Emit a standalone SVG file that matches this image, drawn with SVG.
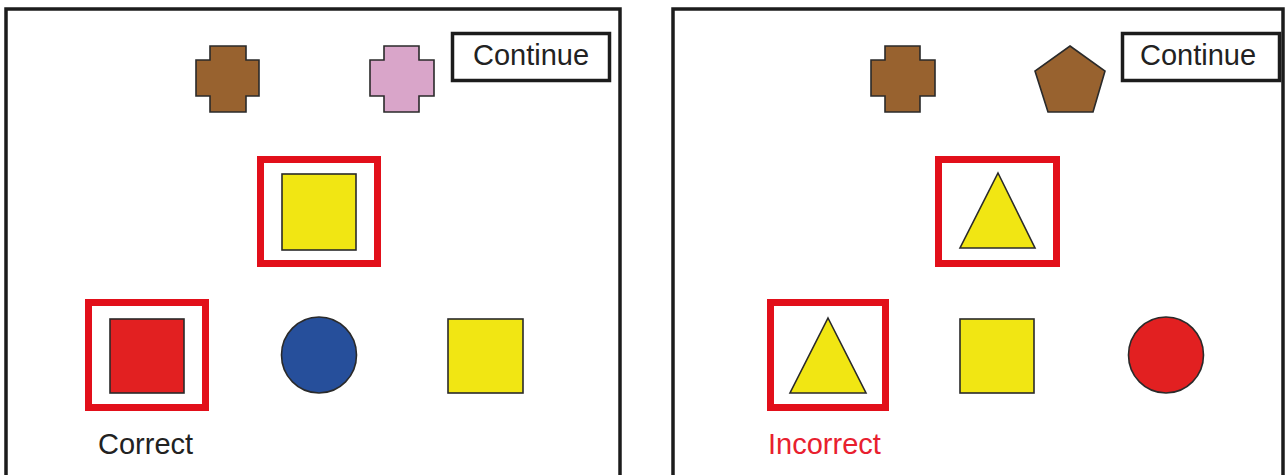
<svg xmlns="http://www.w3.org/2000/svg" width="1286" height="475" viewBox="0 0 1286 475">
<style>
.panel{fill:#fff;stroke:#1c1c1c;stroke-width:3.5}
.btn{fill:#fff;stroke:#1c1c1c;stroke-width:3.5}
.btntxt{font-family:"Liberation Sans",Arial,sans-serif;font-size:29px;fill:#222;text-anchor:middle}
.lbl{font-family:"Liberation Sans",Arial,sans-serif;font-size:29px}
.sel{fill:none;stroke:#e20f1a;stroke-width:7}
.shp{stroke:#2a2a2a;stroke-width:1.6}
.brown{fill:#98622f}
.pink{fill:#d9a5c9}
.yellow{fill:#f1e613}
.red{fill:#e22021}
.blue{fill:#264f9b}
</style>
<rect width="1286" height="475" fill="#fff"/>
<g id="panel-correct">
  <rect class="panel" x="6" y="9" width="614" height="480"/>
  <g id="continue-left">
    <rect class="btn" x="452.5" y="33.5" width="157" height="47"/>
    <text class="btntxt" x="531" y="65">Continue</text>
  </g>
  <path id="cross-brown-left" class="shp brown" d="M210,46 H246 V60 H259 V96 H246 V112 H210 V96 H196 V60 H210 Z"/>
  <path id="cross-pink" class="shp pink" d="M384,46 H419 V60 H434 V96 H419 V112 H384 V96 H370 V60 H384 Z"/>
  <g id="sample-left">
    <rect class="sel" x="260.5" y="159.5" width="117" height="104"/>
    <rect class="shp yellow" x="282" y="174" width="74" height="76"/>
  </g>
  <g id="choice-red-square">
    <rect class="sel" x="88.5" y="302.5" width="117" height="105"/>
    <rect class="shp red" x="110" y="319" width="74" height="74"/>
  </g>
  <ellipse id="choice-blue-circle" class="shp blue" cx="319" cy="355" rx="37.5" ry="38"/>
  <rect id="choice-yellow-square" class="shp yellow" x="448" y="319" width="75" height="74"/>
  <text id="label-correct" class="lbl" x="98" y="454" fill="#222">Correct</text>
</g>
<g id="panel-incorrect">
  <rect class="panel" x="673" y="9" width="610" height="480"/>
  <g id="continue-right">
    <rect class="btn" x="1122.5" y="33.5" width="157" height="47"/>
    <text class="btntxt" x="1198" y="65">Continue</text>
  </g>
  <path id="cross-brown-right" class="shp brown" d="M885,46 H920 V60 H935 V96 H920 V112 H885 V96 H871 V60 H885 Z"/>
  <polygon id="pentagon" class="shp brown" points="1070,46 1105,71 1093,112 1048,112 1035,71"/>
  <g id="sample-right">
    <rect class="sel" x="938.5" y="159.5" width="118" height="104"/>
    <polygon class="shp yellow" points="998,173 1035,248 960,248"/>
  </g>
  <g id="choice-triangle">
    <rect class="sel" x="770.5" y="302.5" width="115" height="105"/>
    <polygon class="shp yellow" points="828,318 866,393 790,393"/>
  </g>
  <rect id="choice-yellow-square-right" class="shp yellow" x="960" y="319" width="74" height="74"/>
  <ellipse id="choice-red-circle" class="shp red" cx="1166" cy="355" rx="37.5" ry="38"/>
  <text id="label-incorrect" class="lbl" x="768" y="454" fill="#e8202e">Incorrect</text>
</g>
</svg>
